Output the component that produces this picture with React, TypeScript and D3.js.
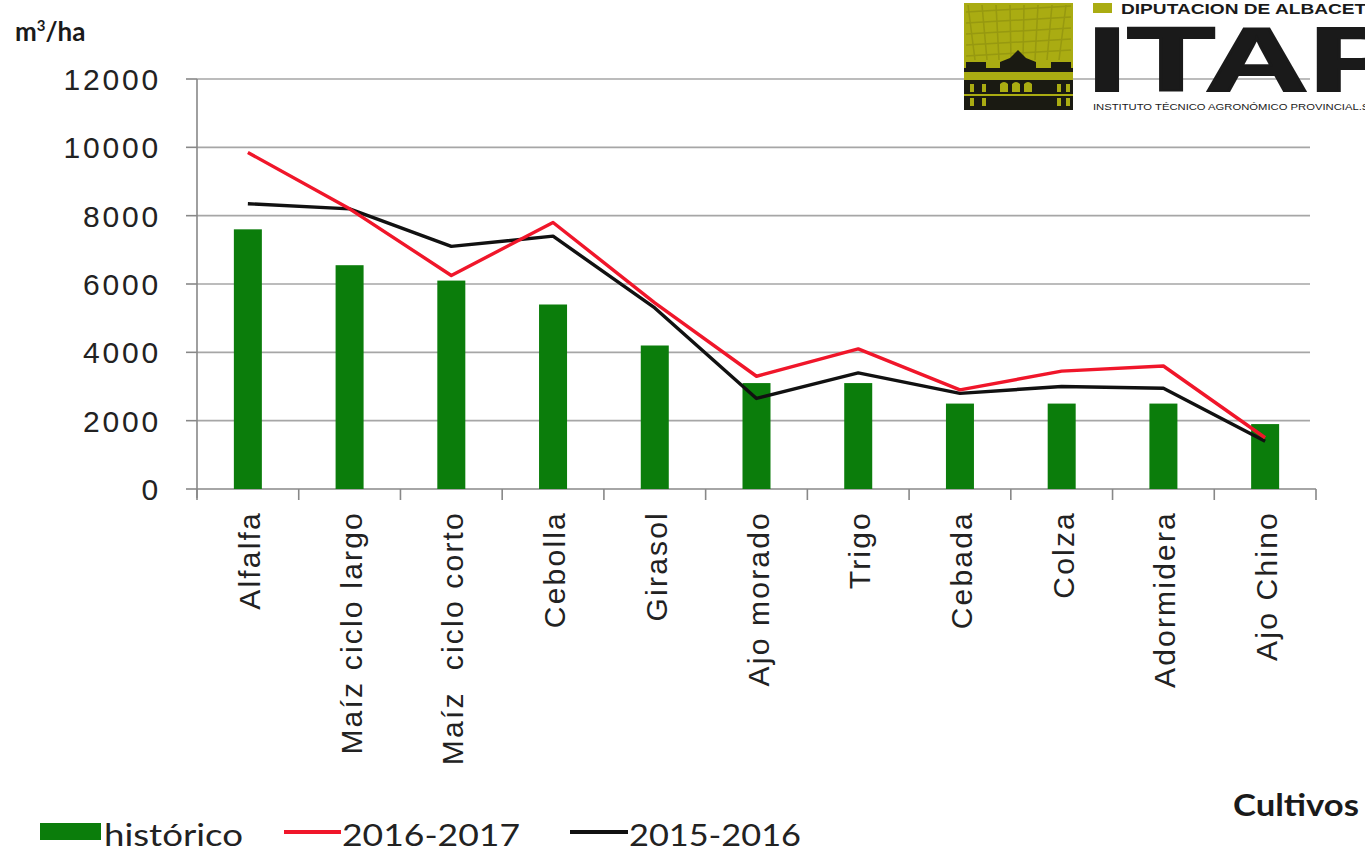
import React from "react";
import * as d3 from "d3";

const categories = [
  "Alfalfa",
  "Maíz ciclo largo",
  "Maíz  ciclo corto",
  "Cebolla",
  "Girasol",
  "Ajo morado",
  "Trigo",
  "Cebada",
  "Colza",
  "Adormidera",
  "Ajo Chino",
];
const historico = [7600, 6550, 6100, 5400, 4200, 3100, 3100, 2500, 2500, 2500, 1900];
const serie2016 = [9850, 8200, 6250, 7800, 5450, 3300, 4100, 2900, 3450, 3600, 1500];
const serie2015 = [8350, 8200, 7100, 7400, 5300, 2650, 3400, 2800, 3000, 2950, 1400];
const yTicks = [0, 2000, 4000, 6000, 8000, 10000, 12000];

const W = 1365;
const H = 851;
const left = 197;
const right = 1316;
const top = 79;
const bottom = 489;

export default function App() {
  const x = d3.scaleBand<string>().domain(categories).range([left, right]).padding(0);
  const y = d3.scaleLinear().domain([0, 12000]).range([bottom, top]);
  const bw = x.bandwidth();
  const barW = 28;
  const cx = (c: string) => (x(c) as number) + bw / 2;

  const line = d3
    .line<number>()
    .x((_, i) => cx(categories[i]))
    .y((v) => y(v));

  const boundaries = d3.range(categories.length + 1).map((i) => left + i * bw);
  const olive = "#aaac12";

  return (
    <svg
      width={W}
      height={H}
      style={{ position: "absolute", left: 0, top: 0, background: "#fff" }}
    >
      {/* gridlines */}
      {yTicks.slice(1).map((t) => (
        <line key={t} x1={left} x2={1310} y1={y(t)} y2={y(t)} stroke="#a6a6a6" strokeWidth={1.6} />
      ))}
      {/* y axis */}
      <line x1={left} x2={left} y1={top} y2={bottom + 9} stroke="#888" strokeWidth={1.6} />
      {yTicks.map((t) => (
        <g key={t}>
          <line x1={left - 11} x2={left} y1={y(t)} y2={y(t)} stroke="#888" strokeWidth={1.6} />
          <text
            x={161}
            y={y(t) + 11}
            textAnchor="end"
            fontFamily="'Liberation Sans', Arial, sans-serif"
            fontSize={30}
            letterSpacing={2.8}
            fill="#222"
          >
            {t}
          </text>
        </g>
      ))}
      {/* x axis */}
      <line x1={left} x2={right} y1={bottom} y2={bottom} stroke="#888" strokeWidth={1.6} />
      {boundaries.map((b, i) => (
        <line key={i} x1={b} x2={b} y1={bottom} y2={bottom + 11} stroke="#888" strokeWidth={1.6} />
      ))}
      {/* bars */}
      {categories.map((c, i) => (
        <rect
          key={c}
          x={cx(c) - barW / 2}
          y={y(historico[i])}
          width={barW}
          height={bottom - y(historico[i])}
          fill="#0b7d0b"
        />
      ))}
      {/* lines */}
      <path d={line(serie2015) || ""} fill="none" stroke="#111" strokeWidth={3.4} strokeLinejoin="round" />
      <path d={line(serie2016) || ""} fill="none" stroke="#f0162a" strokeWidth={3.4} strokeLinejoin="round" />
      {/* category labels */}
      {categories.map((c) => (
        <text
          key={c}
          transform={`translate(${cx(c) + 12},${511}) rotate(-90)`}
          textAnchor="end"
          fontFamily="'Liberation Sans', Arial, sans-serif"
          fontSize={30}
          letterSpacing={2.2}
          fill="#222"
          style={{ whiteSpace: "pre" }}
        >
          {c}
        </text>
      ))}
      {/* axis titles */}
      <text x={15} y={41} fontFamily="Lato, 'Open Sans', sans-serif" fontWeight="bold" fontSize={26} fill="#1a1a1a">
        m
        <tspan dy={-10} fontSize={15}>3</tspan>
        <tspan dy={10}>/ha</tspan>
      </text>
      <text x={1233} y={816} fontFamily="Lato, 'Open Sans', sans-serif" fontWeight="bold" fontSize={30} textLength={126} lengthAdjust="spacingAndGlyphs" fill="#1a1a1a">
        Cultivos
      </text>
      {/* legend */}
      <rect x={40} y={823} width={61} height={17} fill="#0b7d0b" />
      <text x={104} y={846} fontFamily="Lato, 'Open Sans', sans-serif" fontSize={30} textLength={139} lengthAdjust="spacingAndGlyphs" fill="#222">
        histórico
      </text>
      <line x1={284} x2={341} y1={832} y2={832} stroke="#f0162a" strokeWidth={4} />
      <text x={342} y={846} fontFamily="Lato, 'Open Sans', sans-serif" fontSize={30} textLength={178} lengthAdjust="spacingAndGlyphs" fill="#222">
        2016-2017
      </text>
      <line x1={570} x2={628} y1={832} y2={832} stroke="#111" strokeWidth={4} />
      <text x={629} y={846} fontFamily="Lato, 'Open Sans', sans-serif" fontSize={30} textLength={172} lengthAdjust="spacingAndGlyphs" fill="#222">
        2015-2016
      </text>
      {/* logo */}
      <g>
        <rect x={964} y={3} width={109} height={107} fill={olive} />
        <g stroke="#8f9110" strokeWidth={1.5} opacity={0.7}>
          {d3.range(8).map((i) => (
            <line key={"a" + i} x1={968 + i * 14} y1={5} x2={975 + i * 12} y2={60} />
          ))}
          {d3.range(5).map((i) => (
            <line key={"b" + i} x1={966} y1={12 + i * 11} x2={1071} y2={6 + i * 11} />
          ))}
        </g>
        <rect x={964} y={80} width={109} height={30} fill="#1a1a12" />
        <rect x={964} y={68} width={109} height={4} fill="#1a1a12" />
        <path d="M1000,68 L1000,62 L1010,58 L1018,50 L1026,58 L1036,62 L1036,68 Z" fill="#1a1a12" />
        <rect x={966} y={62} width={20} height={6} fill="#1a1a12" />
        <rect x={1051} y={62} width={20} height={6} fill="#1a1a12" />
        {[970, 982, 1057, 1066, 970, 982, 1057, 1066].map((wx, i) => (
          <rect key={"w" + i} x={wx} y={i < 4 ? 84 : 98} width={4} height={8} fill={olive} />
        ))}
        <path d="M1000,92 L1000,84 Q1004,80 1008,84 L1008,92 Z M1012,92 L1012,84 Q1016,80 1020,84 L1020,92 Z M1024,92 L1024,84 Q1028,80 1032,84 L1032,92 Z" fill={olive} />
        <rect x={964} y={94} width={109} height={2} fill={olive} />
        <rect x={1093} y={3} width={19} height={10} fill={olive} />
        <text x={1121} y={14} fontFamily="'Liberation Sans', Arial, sans-serif" fontWeight="bold" fontSize={14} textLength={258} lengthAdjust="spacingAndGlyphs" fill="#1a1a1a">
          DIPUTACION DE ALBACETE
        </text>
        <text x={1087} y={91} fontFamily="'Liberation Sans', Arial, sans-serif" fontWeight="bold" fontSize={90} textLength={318} lengthAdjust="spacingAndGlyphs" fill="#1a1a1a" stroke="#1a1a1a" strokeWidth={2}>
          ITAP
        </text>
        <text x={1093} y={110} fontFamily="'Liberation Sans', Arial, sans-serif" fontSize={9} textLength={290} lengthAdjust="spacingAndGlyphs" fill="#1a1a1a">
          INSTITUTO TÉCNICO AGRONÓMICO PROVINCIAL.S.A.
        </text>
      </g>
    </svg>
  );
}
